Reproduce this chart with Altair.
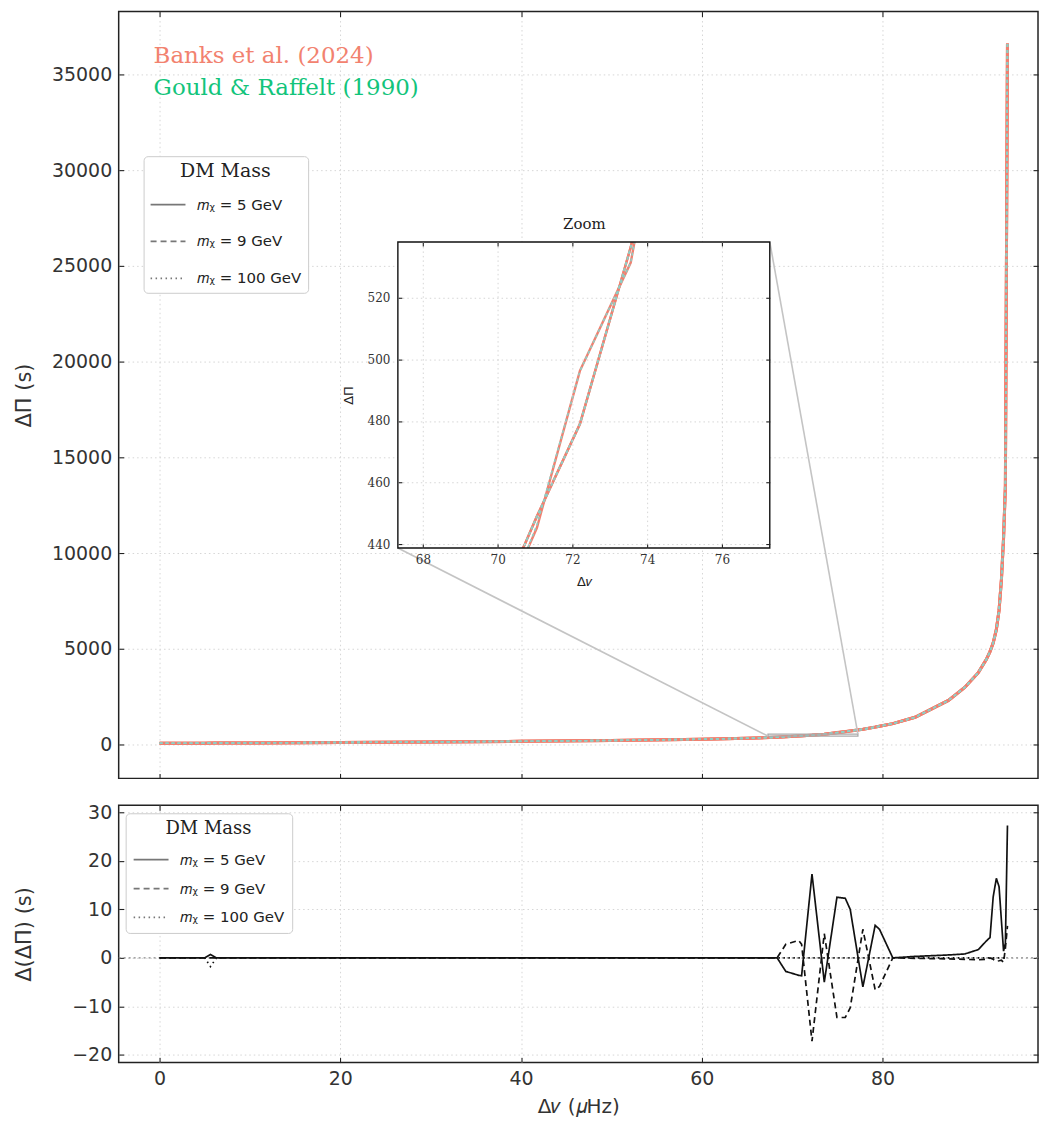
import altair as alt
import pandas as pd

# ---------------- values ----------------
# frequency spacing grid (muHz)
dnu = [0.0, 5.0, 5.63, 6.3, 10.0, 20.0, 30.0, 40.0, 50.0, 60.0, 65.0, 68.34, 69.3,
       70.73, 71.05, 72.2, 73.56, 74.96, 75.88, 76.43, 77.83, 79.19, 79.67, 81.14,
       83.6, 87.3, 89.1, 90.6, 91.5, 91.9, 92.25, 92.6, 92.9, 93.16, 93.4, 93.6, 93.83]
# reference period-spacing track (s)
dpi_ref = [60, 70, 71, 73, 80, 105, 130, 165, 210, 275, 325, 380, 405,
           440, 449, 479, 536.5, 612, 665, 700, 795, 905, 950, 1090,
           1420, 2300, 2980, 3750, 4450, 4850, 5300, 6000, 7000, 8600, 10800, 13500, 36600]
# Banks - Gould differences (s) per DM mass
d_5 = [0, 0, 0.7, 0, 0, 0, 0, 0, 0, 0, 0, 0, -2.8,
       -3.6, -3.7, 17.3, -5.0, 12.5, 12.3, 10.0, -6.0, 6.7, 5.9, 0,
       0.3, 0.6, 0.8, 1.7, 3.5, 4.2, 12.6, 16.4, 14.7, 7.7, 1.4, 3.0, 27.3]
d_9 = [0, 0, 0, 0, 0, 0, 0, 0, 0, 0, 0, 0, 2.8,
       3.6, 2.8, -17.2, 5.0, -12.3, -12.3, -10.3, 5.9, -6.6, -5.9, 0,
       -0.1, -0.2, -0.3, -0.4, -0.3, 0, -0.3, -0.7, -0.6, -0.5, -0.9, 2.0, 6.6]
d_100 = [0, 0, -1.8, 0, 0, 0, 0, 0, 0, 0, 0, 0, 0,
         0, 0, 0, 0, 0, 0, 0, 0, 0, 0, 0,
         0, 0, 0, 0, 0, 0, 0, 0, 0, 0, 0, 0, 0]

masses = ["5", "9", "100"]
mass_labels = ["𝑚ᵪ = 5 GeV", "𝑚ᵪ = 9 GeV", "𝑚ᵪ = 100 GeV"]
sources = ["Banks et al. (2024)", "Gould & Raffelt (1990)"]
source_colors = ["#F2826F", "#12C47B"]

x_ticks = [0, 20, 40, 60, 80]
y_ticks_top = [0, 5000, 10000, 15000, 20000, 25000, 30000, 35000]
y_ticks_bot = [-20, -10, 0, 10, 20, 30]
zoom_x = [67.33, 77.28]
zoom_y = [438.7, 538.2]
inset_x_ticks = [68, 70, 72, 74, 76]
inset_y_ticks = [440, 460, 480, 500, 520]

# ---------------- tables ----------------
rows_top = []
for m, lab, dm in zip(masses, mass_labels, [d_5, d_9, d_100]):
    for x, p, d in zip(dnu, dpi_ref, dm):
        if m == "9":
            banks, gould = p, p - d
        else:
            gould, banks = p, p + d
        rows_top.append({"dnu": x, "dpi": gould, "source": "Gould", "mass": lab})
        rows_top.append({"dnu": x, "dpi": banks, "source": "Banks", "mass": lab})
top_df = pd.DataFrame(rows_top)

rows_bot = []
for lab, dm in zip(mass_labels, [d_5, d_9, d_100]):
    for x, d in zip(dnu, dm):
        rows_bot.append({"dnu": x, "diff": d, "mass": lab})
bot_df = pd.DataFrame(rows_bot)

zoom_df = pd.DataFrame({"x0": [zoom_x[0]], "x1": [zoom_x[1]], "y0": [zoom_y[0]], "y1": [zoom_y[1]]})
src_df = pd.DataFrame({"name": sources})
zero_df = pd.DataFrame({"x": [0.0], "y": [0.0]})

# ---------------- layout / style ----------------
W, H_TOP, H_BOT = 922, 769, 258
X_DOM = [-4.524, 97.21]
Y_TOP_DOM = [-1771, 38281]
Y_BOT_DOM = [-21.6, 31.48]
TK = 5
IX0, IX1, IY0, IY1 = 280, 653, 231, 538
TKI = 4
SALMON = "#F08070"
TEAL = "#8CCFC6"
DASHES = [[1, 0], [6, 4], [1.5, 3.5]]
GRID = dict(gridColor="#d6d6d6", gridDash=[1.5, 3], gridWidth=1)
CLIP = f"pathShape('M{IX0},{IY0}H{IX1}V{IY1}H{IX0}Z')"

main_x = alt.Scale(domain=X_DOM, nice=False, zero=False)
top_y = alt.Scale(domain=Y_TOP_DOM, nice=False, zero=False)
bot_y = alt.Scale(domain=Y_BOT_DOM, nice=False, zero=False)
in_x = alt.Scale(domain=zoom_x, range=[IX0, IX1], nice=False, zero=False)
in_y = alt.Scale(domain=zoom_y, range=[IY1, IY0], nice=False, zero=False)


def axis(orient, values, offset, tick, **kw):
    base = dict(orient=orient, values=values, domain=False, ticks=True, tickSize=tick,
                offset=offset, tickColor="#222", tickWidth=1.1, labels=False, grid=False,
                title=None)
    base.update(kw)
    return alt.Axis(**base)


LBL = dict(labelFont="DejaVu Sans", labelFontSize=19, labelColor="#333", labelPadding=7)
TTL = dict(titleFont="DejaVu Sans", titleFontSize=21, titleFontWeight="normal", titleColor="#333")

ax_top_left = axis("left", y_ticks_top, -TK, TK, labels=True, grid=True, title="ΔΠ (s)",
                   titlePadding=14, minExtent=75, maxExtent=75, format="d", **LBL, **TTL, **GRID)
ax_top_bottom = axis("bottom", x_ticks, -TK, TK, grid=True, **GRID)
ax_top_top = axis("top", x_ticks, -TK, TK)
ax_top_right = axis("right", y_ticks_top, -TK, TK)

ILBL = dict(labelFont="DejaVu Serif", labelFontSize=12, labelColor="#333", zindex=1,
            titleFont="DejaVu Sans", titleFontSize=13, titleFontWeight="normal", titleColor="#222")
ax_in_bottom = axis("bottom", inset_x_ticks, (IY1 - H_TOP) - TKI, TKI, labels=True, grid=True,
                    title="Δ𝜈", labelPadding=7, titlePadding=10, format="d", **ILBL, **GRID)
ax_in_left = axis("left", inset_y_ticks, -(IX0 + TKI), TKI, labels=True, grid=True,
                  title="ΔΠ", labelPadding=8, titlePadding=12, format="d", **ILBL, **GRID)
ax_in_top = axis("top", inset_x_ticks, -(IY0 + TKI), TKI, title="Zoom", titleFont="DejaVu Serif",
                 titleFontSize=15, titleFontWeight="normal", titleColor="#222", titlePadding=10, zindex=1)
ax_in_right = axis("right", inset_y_ticks, (IX1 - TKI) - W, TKI, zindex=1)

ax_bot_left = axis("left", y_ticks_bot, -TK, TK, labels=True, grid=True, title="Δ(ΔΠ) (s)",
                   titlePadding=14, minExtent=75, maxExtent=75, format="d",
                   labelExpr="replace(datum.label, '-', '−')", **LBL, **TTL, **GRID)
ax_bot_bottom = axis("bottom", x_ticks, -TK, TK, labels=True, grid=True, title="Δ𝜈 (𝜇Hz)",
                     titlePadding=8, format="d", **LBL, **dict(TTL, titleFontSize=20), **GRID)
ax_bot_top = axis("top", x_ticks, -TK, TK)
ax_bot_right = axis("right", y_ticks_bot, -TK, TK)


def legend(x, y, title_size, row_pad, pad, title_pad):
    return alt.Legend(title="DM Mass", orient="none", legendX=x, legendY=y,
                      titleFont="DejaVu Serif", titleFontSize=title_size, titleFontWeight="normal",
                      titleColor="#222", titleAnchor="middle", titlePadding=title_pad,
                      labelFont="DejaVu Sans", labelFontSize=15, labelColor="#222", labelOffset=11,
                      symbolType="stroke", symbolSize=35 * 35, symbolStrokeWidth=1.8,
                      symbolStrokeColor="#777", symbolOpacity=1, fillColor="white",
                      strokeColor="#cccccc", cornerRadius=4, padding=pad, rowPadding=row_pad)


# ---------------- top panel ----------------
tsrc = alt.Chart(top_df)
banks_main = tsrc.transform_filter("datum.source == 'Banks'").mark_line(
    color=SALMON, strokeWidth=3, clip=True).encode(
    x=alt.X("dnu:Q", scale=main_x, axis=ax_top_bottom),
    y=alt.Y("dpi:Q", scale=top_y, axis=ax_top_left),
    detail="mass:N")
gould_main = tsrc.transform_filter("datum.source == 'Gould'").mark_line(
    color=TEAL, strokeWidth=1.6, strokeDash=[3, 3], clip=True).encode(
    x=alt.X("dnu:Q", scale=main_x, axis=None),
    y=alt.Y("dpi:Q", scale=top_y, axis=None),
    detail="mass:N")
legend_layer = tsrc.transform_filter("datum.source == 'Banks'").mark_line(
    color="#777", opacity=0).encode(
    x=alt.X("dnu:Q", scale=main_x, axis=None),
    y=alt.Y("dpi:Q", scale=top_y, axis=None),
    strokeDash=alt.StrokeDash("mass:N", scale=alt.Scale(domain=mass_labels, range=DASHES),
                              legend=legend(25, 145, 19, 10, 6, 5)))
zoom_rect = alt.Chart(zoom_df).mark_rect(fillOpacity=0, stroke="#aaaaaa", strokeWidth=1.3).encode(
    x=alt.X("x0:Q", scale=main_x, axis=ax_top_top), x2="x1:Q",
    y=alt.Y("y0:Q", scale=top_y, axis=ax_top_right), y2="y1:Q")
conn_a = alt.Chart(zoom_df).mark_rule(color="#c4c4c4", strokeWidth=1.6).encode(
    x=alt.X("x0:Q", scale=main_x, axis=None), y=alt.Y("y0:Q", scale=top_y, axis=None),
    x2=alt.value(IX0), y2=alt.value(IY1))
conn_b = alt.Chart(zoom_df).mark_rule(color="#c4c4c4", strokeWidth=1.6).encode(
    x=alt.X("x1:Q", scale=main_x, axis=None), y=alt.Y("y1:Q", scale=top_y, axis=None),
    x2=alt.value(IX1), y2=alt.value(IY0))
inset_bg = alt.Chart(zoom_df).mark_rect(fill="white").encode(
    x=alt.X("x0:Q", scale=in_x, axis=ax_in_bottom), x2="x1:Q",
    y=alt.Y("y0:Q", scale=in_y, axis=ax_in_left), y2="y1:Q")
banks_in = tsrc.transform_filter("datum.source == 'Banks'").mark_line(
    color=SALMON, strokeWidth=2.4, clip=alt.ExprRef(expr=CLIP)).encode(
    x=alt.X("dnu:Q", scale=in_x, axis=None), y=alt.Y("dpi:Q", scale=in_y, axis=None),
    detail="mass:N")
gould_in = tsrc.transform_filter("datum.source == 'Gould'").mark_line(
    color=TEAL, strokeWidth=1.6, strokeDash=[3, 3], clip=alt.ExprRef(expr=CLIP)).encode(
    x=alt.X("dnu:Q", scale=in_x, axis=None), y=alt.Y("dpi:Q", scale=in_y, axis=None),
    detail="mass:N")
inset_frame = alt.Chart(zoom_df).mark_rect(fillOpacity=0, stroke="#111", strokeWidth=1.4).encode(
    x=alt.X("x0:Q", scale=in_x, axis=ax_in_top), x2="x1:Q",
    y=alt.Y("y0:Q", scale=in_y, axis=ax_in_right), y2="y1:Q")
src_text = alt.Chart(src_df).mark_text(align="left", baseline="middle", font="DejaVu Serif",
                                        fontSize=23).encode(
    x=alt.value(35),
    y=alt.Y("name:N", scale=alt.Scale(type="point", domain=sources, range=[45, 77], padding=0),
            axis=None),
    text="name:N",
    color=alt.Color("name:N", scale=alt.Scale(domain=sources, range=source_colors), legend=None))

top = alt.layer(banks_main, gould_main, legend_layer, zoom_rect, conn_a, conn_b, inset_bg,
                banks_in, gould_in, inset_frame, src_text).resolve_scale(
    x="independent", y="independent").properties(width=W, height=H_TOP)

# ---------------- bottom panel ----------------
zero_line = alt.Chart(zero_df).mark_rule(color="#888", strokeDash=[2, 3], strokeWidth=1.2).encode(
    y=alt.Y("y:Q", scale=bot_y, axis=None))
diff_lines = alt.Chart(bot_df).mark_line(color="#111", strokeWidth=1.7, clip=True).encode(
    x=alt.X("dnu:Q", scale=main_x, axis=ax_bot_bottom),
    y=alt.Y("diff:Q", scale=bot_y, axis=ax_bot_left),
    strokeDash=alt.StrokeDash("mass:N", scale=alt.Scale(domain=mass_labels, range=DASHES),
                              legend=legend(7, 8, 18, 2, 7, 3)))
bot_ticks = alt.Chart(zero_df).mark_point(opacity=0).encode(
    x=alt.X("x:Q", scale=main_x, axis=ax_bot_top),
    y=alt.Y("y:Q", scale=bot_y, axis=ax_bot_right))

bottom = alt.layer(zero_line, diff_lines, bot_ticks).resolve_scale(
    x="independent", y="independent").properties(width=W, height=H_BOT)

chart = alt.vconcat(top, bottom, spacing=22).resolve_scale(
    x="independent", y="independent", strokeDash="independent").resolve_legend(
    strokeDash="independent").properties(
    padding={"left": 5, "top": 0, "right": 0, "bottom": 0}).configure(
    background="white", font="DejaVu Sans").configure_view(stroke="#222", strokeWidth=1.5)

chart.save("out.html", embed_options={"renderer": "svg", "actions": False})
